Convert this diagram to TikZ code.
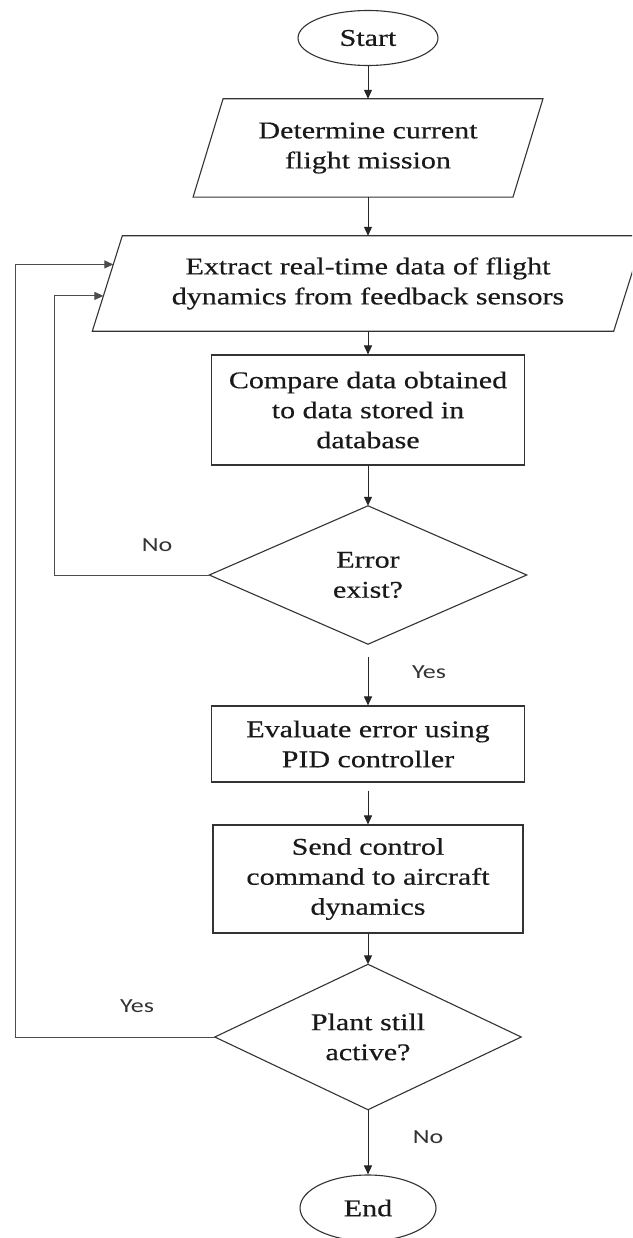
\documentclass[tikz,border=0pt]{standalone}
\usepackage{fontspec}
\setmainfont{Liberation Serif}[FakeStretch=1.25,FakeBold=0.4]
\newfontfamily\labfont{Carlito}[FakeStretch=1.3]
\usetikzlibrary{arrows.meta,shapes.geometric,calc}
\begin{document}
\begin{tikzpicture}[x=1pt,y=-1pt,
  txt/.style={font=\fontsize{24}{30}\selectfont, text=black!90, align=center, inner sep=0pt},
  shp/.style={draw=black!80, line width=1.1pt},
  box/.style={txt, shp, minimum width=313pt},
  term/.style={txt, shp, ellipse},
  lab/.style={font=\labfont\fontsize{20}{24}\selectfont, text=black!80, inner sep=0pt},
  arr/.style={draw=black!85, line width=1pt, -{Triangle[length=9pt,width=8pt]}},
  loop/.style={arr, draw=black!70}]
\clip (0,0) rectangle (632,1238);
\fill[white] (0,0) rectangle (632,1238);

% nodes
\node[term, minimum width=140pt, minimum height=55pt] (start) at (368,38) {Start};
\node[txt, minimum width=319.5pt, minimum height=98pt] (det) at (368,148) {Determine current\\flight mission};
\node[txt, minimum width=521pt, minimum height=95pt] (ext) at (368,283.5) {Extract real-time data of flight\\dynamics from feedback sensors};
\node[box, minimum height=110pt] (cmp) at (368,410) {Compare data obtained\\to data stored in\\database};
\node[txt, minimum width=317pt, minimum height=138pt] (err) at (368,575) {Error\\exist?};
\node[box, minimum height=76pt] (eval) at (368,744) {Evaluate error using\\PID controller};
\node[box, minimum width=310pt, minimum height=108pt] (send) at (368,879) {Send control\\command to aircraft\\dynamics};
\node[txt, minimum width=306pt, minimum height=145pt] (plant) at (368,1037) {Plant still\\active?};
\node[term, minimum width=136pt, minimum height=66pt] (end) at (368,1208) {End};

% shapes drawn around text nodes
\draw[shp] ($(det.north west)+(15,0)$) -- ($(det.north east)+(15,0)$) -- ($(det.south east)+(-15,0)$) -- ($(det.south west)+(-15,0)$) -- cycle;
\coordinate (ext-tl) at ($(ext.north west)+(15,0)$);
\coordinate (ext-bl) at ($(ext.south west)+(-15,0)$);
\draw[shp] (ext-tl) -- ($(ext.north east)+(15,0)$) -- ($(ext.south east)+(-15,0)$) -- (ext-bl) -- cycle;
\draw[shp] (err.north) -- (err.east) -- (err.south) -- (err.west) -- cycle;
\draw[shp] (plant.north) -- (plant.east) -- (plant.south) -- (plant.west) -- cycle;

% main flow
\draw[arr] (start.south) -- (det.north);
\draw[arr] (det.south) -- (ext.north);
\draw[arr] (ext.south) -- (cmp.north);
\draw[arr] (cmp.south) -- (err.north);
\draw[arr, shorten <=13pt] (err.south) -- (eval.north);
\draw[arr, shorten <=8pt] (eval.south) -- (send.north);
\draw[arr] (send.south) -- (plant.north);
\draw[arr] (plant.south) -- (end.north);

% feedback loops
\coordinate (fbA) at ($(ext-bl)!0.70!(ext-tl)$);
\coordinate (fbB) at ($(ext-bl)!0.37!(ext-tl)$);
\coordinate (railA) at (15,0);
\coordinate (railB) at (54,0);
\draw[loop] (err.west) -- (err.west -| railB) |- (fbB);
\draw[loop] (plant.west) -- (plant.west -| railA) |- (fbA);

% labels
\node[lab] (no1) at (157,545) {No};
\node[lab] (yes1) at (429,672) {Yes};
\node[lab] (yes2) at (137,1006) {Yes};
\node[lab] (no2) at (428,1137) {No};
\end{tikzpicture}
\end{document}
